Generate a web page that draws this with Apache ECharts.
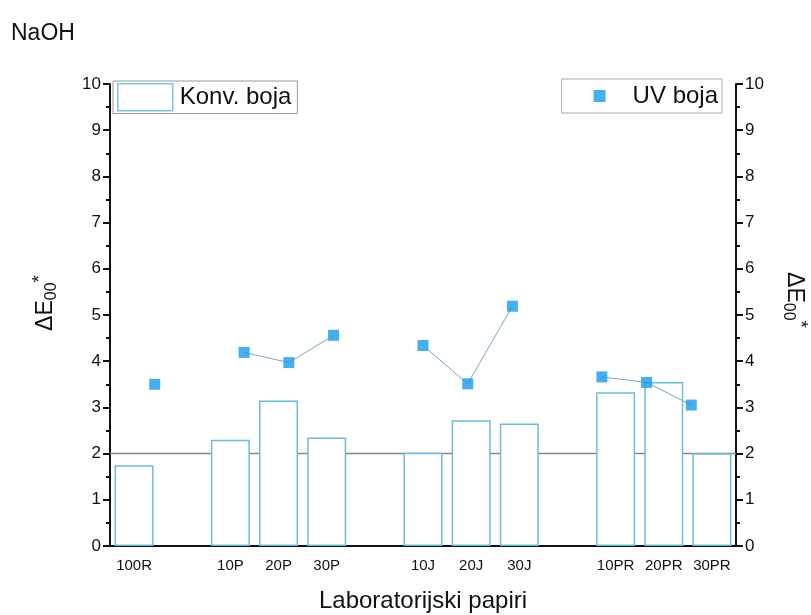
<!DOCTYPE html>
<html>
<head>
<meta charset="utf-8">
<script src="https://cdn.jsdelivr.net/npm/echarts@6/dist/echarts.min.js"></script>
<style>
  html, body { margin: 0; padding: 0; background: #fff; }
  #main { width: 811px; height: 615px; }
</style>
</head>
<body>
<div id="main"></div>
<script>
// kategorije na x osi (prazna mjesta su razmaci medju grupama)
var categories = ['100R', '', '10P', '20P', '30P', '', '10J', '20J', '30J', '', '10PR', '20PR', '30PR'];
// Konv. boja (stupci)
var konvBoja = [1.75, null, 2.30, 3.15, 2.35, null, 2.02, 2.72, 2.65, null, 3.33, 3.55, 2.01];
// UV boja (tocke)
var uvBoja = [3.50, null, 4.19, 3.97, 4.56, null, 4.34, 3.51, 5.19, null, 3.66, 3.54, 3.05];
var yTicks = [0, 10];
var refLine = 2;

var myChart = echarts.init(document.getElementById('main'));
var font = 'Arial, "Liberation Sans", sans-serif';
var narrow = '"Liberation Sans Narrow", "Arial Narrow", Arial, sans-serif';

// tocke za scatter os (0..14)
var uvPoints = [];
var uvLine = [];
uvBoja.forEach(function (v, i) {
    if (v != null) uvPoints.push([i + 1, v]);
    uvLine.push([i + 1, v == null ? '-' : v]);
});
// 100R nije spojen s ostalima
uvLine[0] = [1, '-'];

var yName = '{d|ΔE}{s|00}{p|*}';
var yRich = {
    d: { fontSize: 23, fontFamily: font, fill: '#111', color: '#111' },
    s: { fontSize: 16, fontFamily: font, fill: '#111', color: '#111', padding: [12, 0, 0, 0] },
    p: { fontSize: 19, fontFamily: font, fill: '#111', color: '#111', padding: [0, 0, 12, 0] }
};

function axisTitle(x, y, rot) {
    return {
        type: 'text',
        x: x,
        y: y,
        rotation: rot,
        style: { text: yName, rich: yRich, align: 'center', verticalAlign: 'middle', fill: '#111' }
    };
}

var option = {
    animation: false,
    title: {
        text: 'NaOH',
        left: 6,
        top: 17,
        textStyle: { fontSize: 23, fontWeight: 'normal', fontFamily: font, color: '#111' }
    },
    grid: { left: 110, right: 75, top: 84, bottom: 69, outerBoundsMode: 'none' },
    graphic: [
        axisTitle(46, 303, Math.PI / 2),
        axisTitle(794, 300, -Math.PI / 2)
    ],
    legend: [{
        data: ['Konv. boja'],
        icon: 'rect',
        left: 113,
        top: 81,
        itemWidth: 55,
        itemHeight: 27,
        itemGap: 6,
        padding: [2, 6, 2, 4],
        borderColor: '#999',
        borderWidth: 1,
        textStyle: { fontSize: 24, fontFamily: font, color: '#111', padding: [0, 0, 0, 2] },
        itemStyle: { color: '#fff', borderColor: '#7cc3dc', borderWidth: 1.5 }
    }, {
        data: ['UV boja'],
        right: 89,
        top: 79,
        itemWidth: 12,
        itemHeight: 12,
        padding: [5, 4, 5, 32],
        borderColor: '#aaa',
        borderWidth: 1,
        textStyle: { fontSize: 24, fontFamily: font, color: '#111', padding: [0, 0, 0, 22] }
    }],
    xAxis: [{
        type: 'category',
        data: categories,
        position: 'bottom',
        name: 'Laboratorijski papiri',
        nameLocation: 'middle',
        nameGap: 43,
        nameTextStyle: { fontSize: 24, fontFamily: font, color: '#111' },
        axisLine: { lineStyle: { color: '#111', width: 2 } },
        axisTick: { alignWithLabel: true, length: 8, lineStyle: { color: '#111', width: 2 } },
        axisLabel: { fontSize: 15, fontFamily: narrow, color: '#111', margin: 12, interval: 0 },
        splitLine: { show: false }
    }, {
        // kratke crtice izmedju kategorija
        type: 'category',
        data: categories,
        position: 'bottom',
        axisLine: { show: false },
        axisTick: { length: 4, lineStyle: { color: '#111', width: 2 } },
        axisLabel: { show: false },
        splitLine: { show: false }
    }, {
        type: 'value',
        min: 0,
        max: 14,
        show: false
    }],
    yAxis: [{
        type: 'value',
        min: yTicks[0],
        max: yTicks[1],
        interval: 1,
        position: 'left',
        axisLine: { show: true, lineStyle: { color: '#111', width: 2 } },
        axisTick: { show: true, length: 7, lineStyle: { color: '#111', width: 2 } },
        minorTick: { show: true, splitNumber: 2, length: 4, lineStyle: { color: '#111', width: 2 } },
        axisLabel: { fontSize: 17, fontFamily: font, color: '#111', margin: 9 },
        splitLine: { show: false }
    }, {
        type: 'value',
        min: yTicks[0],
        max: yTicks[1],
        interval: 1,
        position: 'right',
        axisLine: { show: true, lineStyle: { color: '#111', width: 2 } },
        axisTick: { show: true, length: 7, lineStyle: { color: '#111', width: 2 } },
        minorTick: { show: true, splitNumber: 2, length: 4, lineStyle: { color: '#111', width: 2 } },
        axisLabel: { fontSize: 17, fontFamily: font, color: '#111', margin: 9 },
        splitLine: { show: false }
    }],
    series: [{
        name: 'ref',
        type: 'line',
        xAxisIndex: 2,
        yAxisIndex: 0,
        data: [[0, refLine], [14, refLine]],
        symbol: 'none',
        lineStyle: { color: '#888', width: 1.5 },
        z: 1,
        silent: true
    }, {
        name: 'Konv. boja',
        type: 'bar',
        xAxisIndex: 0,
        yAxisIndex: 0,
        data: konvBoja,
        barWidth: '81%',
        itemStyle: { color: '#fff', borderColor: '#6fbcd8', borderWidth: 1.5 },
        z: 2
    }, {
        name: 'uvline',
        type: 'line',
        xAxisIndex: 2,
        yAxisIndex: 0,
        data: uvLine,
        connectNulls: false,
        symbol: 'none',
        lineStyle: { color: '#7fa6bd', width: 1 },
        z: 3
    }, {
        name: 'UV boja',
        type: 'scatter',
        xAxisIndex: 2,
        yAxisIndex: 0,
        data: uvPoints,
        symbol: 'rect',
        symbolSize: 11,
        itemStyle: { color: '#1a9be8' },
        z: 4
    }]
};
myChart.setOption(option);
</script>
</body>
</html>
